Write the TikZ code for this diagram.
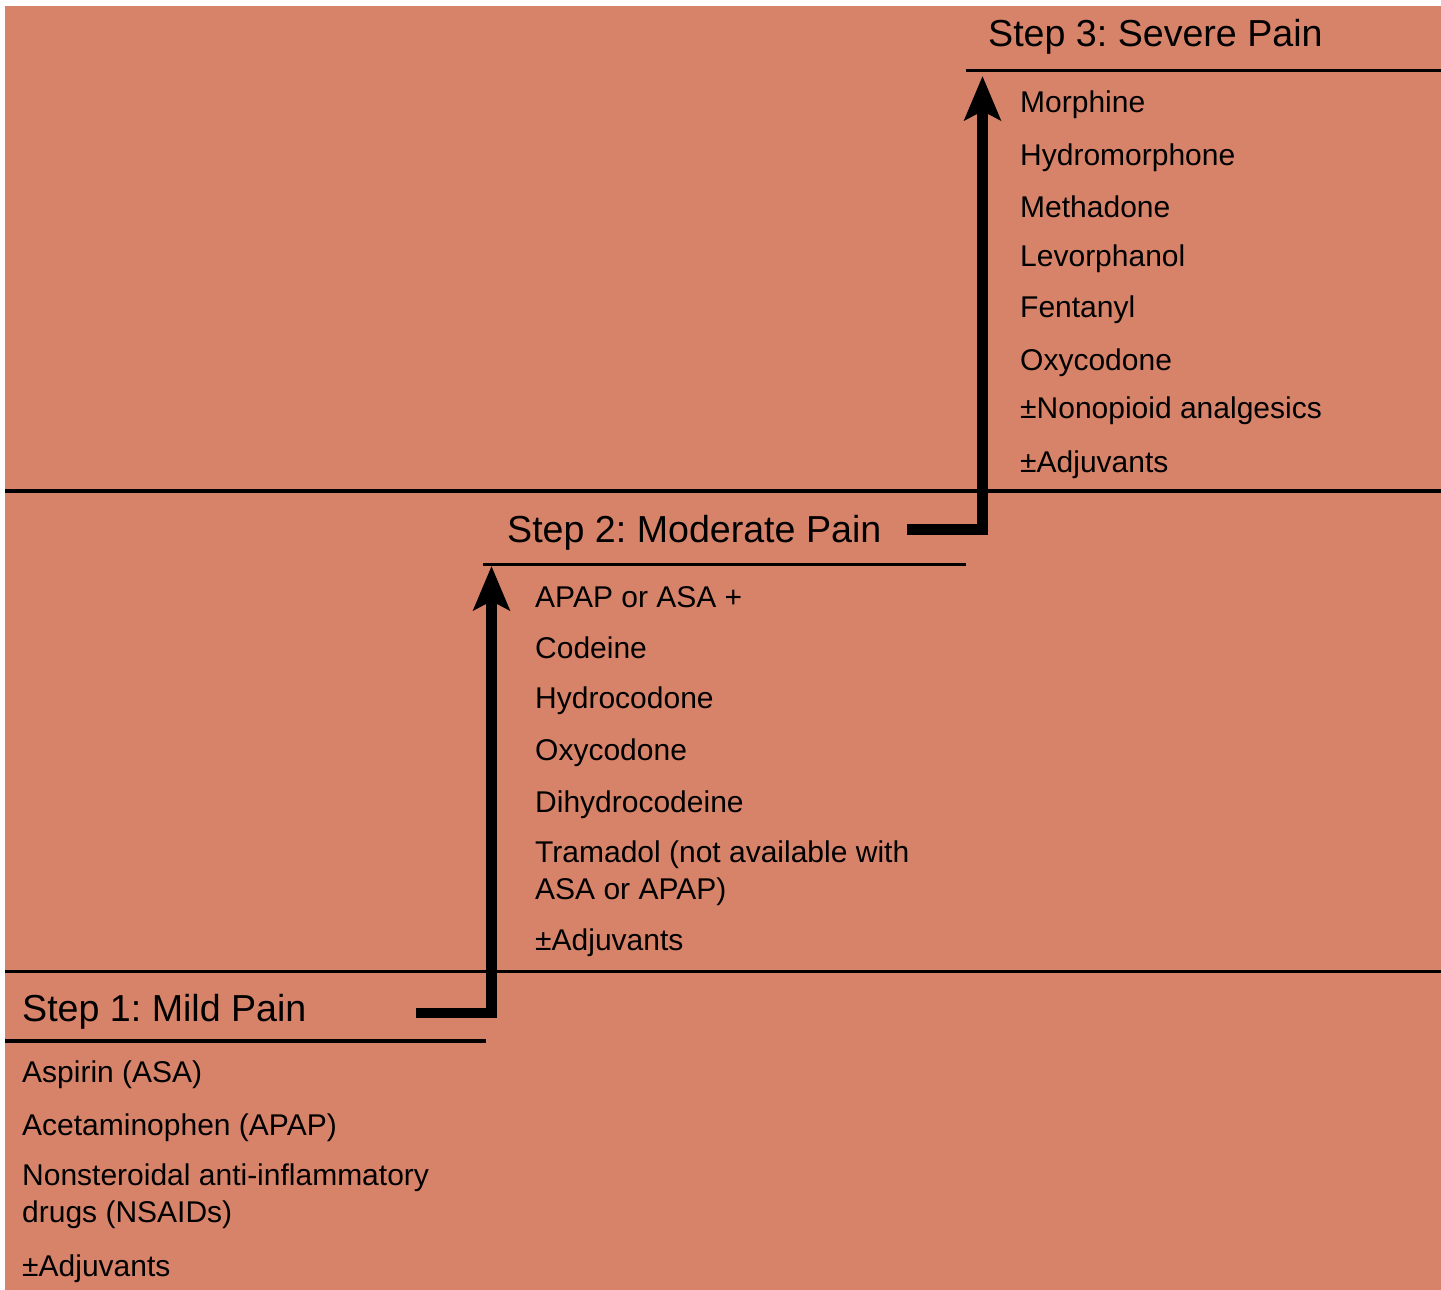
\documentclass[tikz,border=0pt]{standalone}
\usepackage{fontspec}
\setmainfont{Liberation Sans}
\usetikzlibrary{arrows.meta}
\definecolor{painbg}{RGB}{215,131,105}
\frenchspacing

\begin{document}
\begin{tikzpicture}[x=1pt,y=-1pt,
    heading/.style={anchor=base west,inner sep=0pt,font=\fontsize{37.6}{45}\selectfont},
    item/.style={anchor=base west,inner sep=0pt,align=left,font=\fontsize{30}{37}\selectfont},
    rule/.style={line width=3.5pt},
    steparrow/.style={line width=10.5pt,line join=miter,-{Stealth[length=44pt,width=36pt,inset=9pt]}}]
    \useasboundingbox[fill=white] (0,0) rectangle (1441,1290);
    \fill[painbg] (5,6) rectangle (1441,1290);
    % rules between the steps
    \draw[rule] (5,491) -- (1441,491);
    \draw[rule] (5,971.5) -- (1441,971.5);
    \draw[rule] (966,70.5) -- (1441,70.5);
    \draw[rule] (483,564.5) -- (966,564.5);
    \draw[rule] (5,1041) -- (486,1041);
    % step 3
    \node[heading] (h3) at (988,47) {Step 3: Severe Pain};
    \node[item] (m1) at (1020,113) {Morphine};
    \node[item] (m2) at (1020,165) {Hydromorphone};
    \node[item] (m3) at (1020,217) {Methadone};
    \node[item] (m4) at (1020,266) {Levorphanol};
    \node[item] (m5) at (1020,317) {Fentanyl};
    \node[item] (m6) at (1020,370) {Oxycodone};
    \node[item] (m7) at (1020,418) {±Nonopioid analgesics};
    \node[item] (m8) at (1020,472) {±Adjuvants};
    % step 2
    \node[heading] (h2) at (507,542) {Step 2: Moderate Pain};
    \node[item] (c1) at (535,607) {APAP or ASA +};
    \node[item] (c2) at (535,658) {Codeine};
    \node[item] (c3) at (535,708) {Hydrocodone};
    \node[item] (c4) at (535,760) {Oxycodone};
    \node[item] (c5) at (535,812) {Dihydrocodeine};
    \node[item] (c6) at (535,899) {Tramadol (not available with\\ASA or APAP)};
    \node[item] (c7) at (535,950) {±Adjuvants};
    % step 1
    \node[heading] (h1) at (22,1021) {Step 1: Mild Pain};
    \node[item] (a1) at (22,1082) {Aspirin (ASA)};
    \node[item] (a2) at (22,1135) {Acetaminophen (APAP)};
    \node[item] (a3) at (22,1222) {Nonsteroidal anti-inflammatory\\drugs (NSAIDs)};
    \node[item] (a4) at (22,1276) {±Adjuvants};
    % arrows up the ladder
    \coordinate (up1s) at (416,1013);
    \coordinate (up1t) at (491.5,566);
    \coordinate (up2s) at (907,529.5);
    \coordinate (up2t) at (982.5,76);
    \draw[steparrow] (up1s) -| (up1t);
    \draw[steparrow] (up2s) -| (up2t);
\end{tikzpicture}
\end{document}
